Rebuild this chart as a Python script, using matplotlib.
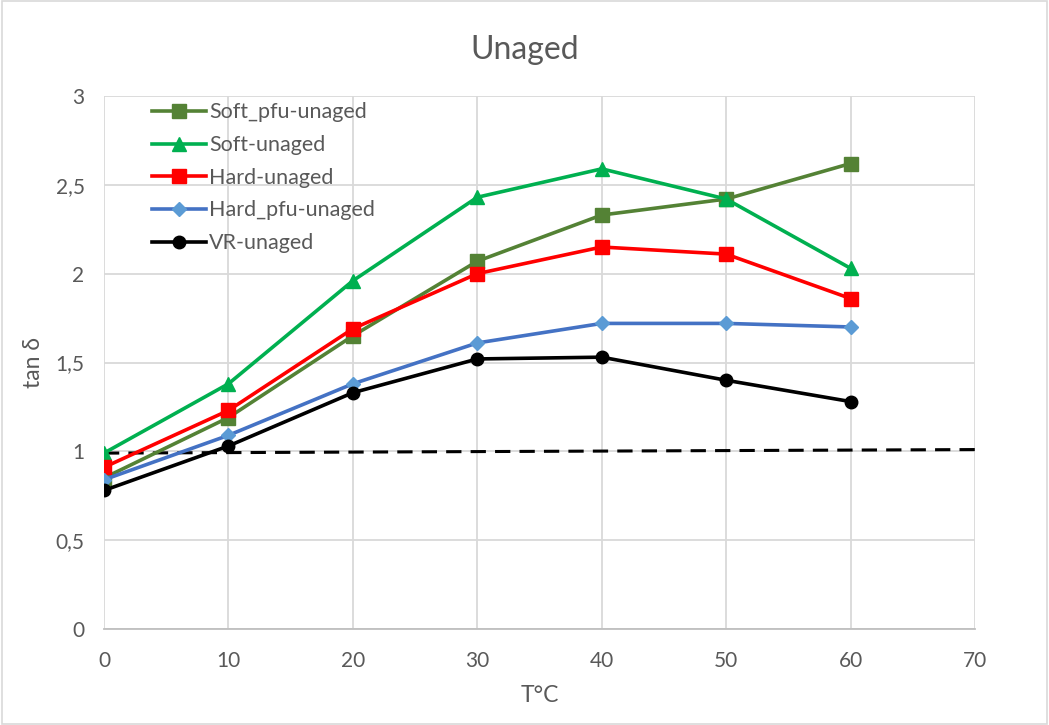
import matplotlib
matplotlib.use("Agg")
import matplotlib.pyplot as plt
from matplotlib.patches import Rectangle

temperature = [0, 10, 20, 30, 40, 50, 60]
soft_pfu = [0.85, 1.19, 1.65, 2.07, 2.33, 2.42, 2.62]
soft = [0.99, 1.38, 1.96, 2.43, 2.59, 2.42, 2.03]
hard = [0.91, 1.23, 1.69, 2.00, 2.15, 2.11, 1.86]
hard_pfu = [0.84, 1.09, 1.38, 1.61, 1.72, 1.72, 1.70]
vr = [0.78, 1.03, 1.33, 1.52, 1.53, 1.40, 1.28]
ref_x = [0, 70]
ref_y = [0.99, 1.01]

x_ticks = [0, 10, 20, 30, 40, 50, 60, 70]
y_ticks = [0, 0.5, 1, 1.5, 2, 2.5, 3]
y_labels = ["0", "0,5", "1", "1,5", "2", "2,5", "3"]

plt.rcParams["font.family"] = ["Lato", "DejaVu Sans"]
txt = "#595959"

fig = plt.figure(figsize=(10.49, 7.25), dpi=100)
fig.patches.append(Rectangle((0.002, 0.002), 0.996, 0.996, transform=fig.transFigure,
                             fill=False, edgecolor="#d9d9d9", linewidth=1.2))
ax = fig.add_axes([0.0991, 0.1324, 0.8304, 0.7352])

ax.plot(ref_x, ref_y, color="black", linestyle=(0, (5, 3)), linewidth=2.2, zorder=2)

ax.plot(temperature, soft_pfu, color="#548235", lw=2.6, marker="s", ms=10,
        label="Soft_pfu-unaged", zorder=3)
ax.plot(temperature, soft, color="#00B050", lw=2.6, marker="^", ms=10,
        label="Soft-unaged", zorder=3)
ax.plot(temperature, hard, color="#FF0000", lw=2.6, marker="s", ms=10,
        label="Hard-unaged", zorder=3)
ax.plot(temperature, hard_pfu, color="#4472C4", lw=2.6, marker="D", ms=7,
        markerfacecolor="#5B9BD5", markeredgecolor="#5B9BD5",
        label="Hard_pfu-unaged", zorder=3)
ax.plot(temperature, vr, color="black", lw=2.6, marker="o", ms=9,
        label="VR-unaged", zorder=3)

ax.set_xlim(0, 70)
ax.set_ylim(0, 3)
ax.set_xticks(x_ticks)
ax.set_yticks(y_ticks)
ax.set_yticklabels(y_labels)
ax.grid(True, color="#d9d9d9", linewidth=1.3)
ax.set_axisbelow(True)
for s in ["top", "right", "left"]:
    ax.spines[s].set_visible(False)
ax.spines["bottom"].set_color("#bfbfbf")
ax.spines["bottom"].set_linewidth(1.3)
ax.tick_params(axis="both", length=0, colors=txt, labelsize=15)
ax.tick_params(axis="x", pad=16)
ax.tick_params(axis="y", pad=14)

ax.set_xlabel("T°C", color=txt, fontsize=16.5, labelpad=10)
ax.set_ylabel("tan δ", color=txt, fontsize=16.5, labelpad=8)
fig.text(0.5, 0.931, "Unaged", ha="center", va="center", fontsize=23, color=txt)

leg = ax.legend(loc="upper left", bbox_to_anchor=(0.055, 0.988), frameon=False,
                borderpad=0, borderaxespad=0,
                fontsize=15.5, handlelength=2.5, handletextpad=0.15, labelspacing=0.59)
for t in leg.get_texts():
    t.set_color(txt)

fig.savefig("out.png", dpi=100)
